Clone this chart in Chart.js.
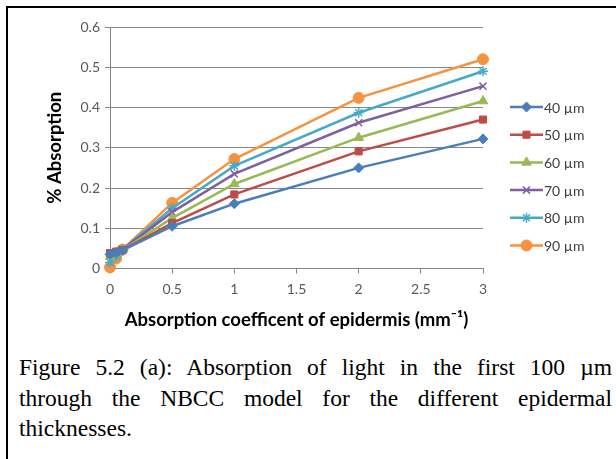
<!DOCTYPE html>
<html>
<head>
<meta charset="utf-8">
<script src="https://cdn.jsdelivr.net/npm/chart.js@4"></script>
<style>
  html, body { margin: 0; padding: 0; background: #fff; width: 616px; height: 459px; overflow: hidden; }
  #frame { position: absolute; left: 6px; top: 6px; width: 620px; height: 470px; border-top: 2px solid #000; border-left: 2px solid #000; }
  #wrap { position: absolute; left: 8px; top: 8px; width: 600px; height: 340px; }
  #caption { position: absolute; left: 19px; top: 352px; width: 593px; font-family: "Liberation Serif", "Times New Roman", serif; font-size: 23.5px; line-height: 30.5px; color: #000; }
  #caption .j { text-align: justify; text-align-last: justify; white-space: nowrap; }
</style>
</head>
<body>
<div id="frame"></div>
<div id="wrap"><canvas id="c" width="600" height="340"></canvas></div>
<div id="caption"><div class="j">Figure 5.2 (a): Absorption of light in the first 100 µm</div><div class="j">through the NBCC model for the different epidermal</div><div>thicknesses.</div></div>
<script>
const xValues = [0, 0.05, 0.1, 0.5, 1, 2, 3];
const seriesNames = ["40 µm", "50 µm", "60 µm", "70 µm", "80 µm", "90 µm"];
const s40 = [0.035, 0.040, 0.045, 0.105, 0.161, 0.250, 0.322];
const s50 = [0.038, 0.042, 0.046, 0.113, 0.184, 0.291, 0.370];
const s60 = [0.030, 0.038, 0.046, 0.125, 0.210, 0.325, 0.416];
const s70 = [0.035, 0.040, 0.047, 0.140, 0.235, 0.362, 0.453];
const s80 = [0.015, 0.030, 0.047, 0.150, 0.255, 0.387, 0.490];
const s90 = [0.003, 0.025, 0.047, 0.163, 0.272, 0.424, 0.520];
const xTicks = [0, 0.5, 1, 1.5, 2, 2.5, 3];
const yTicks = [0, 0.1, 0.2, 0.3, 0.4, 0.5, 0.6];

const allSeries = [s40, s50, s60, s70, s80, s90];
const colors = ["#4a7ebb", "#be4b48", "#98b954", "#7d60a0", "#46aac5", "#f69240"];
const styles = ["rectRot", "rect", "triangle", "crossRot", "star", "circle"];
const radii = [5, 5, 5.5, 5, 5, 5.5];

const datasets = allSeries.map((s, i) => ({
  label: seriesNames[i],
  data: s.map((v, j) => ({ x: xValues[j], y: v })),
  borderColor: colors[i],
  backgroundColor: colors[i],
  borderWidth: 2.5,
  pointStyle: styles[i],
  pointRadius: radii[i],
  pointBorderWidth: (styles[i] === "crossRot" || styles[i] === "star") ? 1.5 : 1,
  pointBorderColor: colors[i],
  pointBackgroundColor: colors[i],
  tension: 0,
  clip: false
}));

const FONT = "Lato, 'Open Sans', 'Liberation Sans', sans-serif";

const legendPlugin = {
  id: "sideLegend",
  afterDraw(chart) {
    const ctx = chart.ctx;
    ctx.save();
    chart.data.datasets.forEach((ds, i) => {
      const y = 99 + i * 27.7;
      ctx.strokeStyle = ds.borderColor;
      ctx.lineWidth = 2.5;
      ctx.beginPath();
      ctx.moveTo(502, y);
      ctx.lineTo(535, y);
      ctx.stroke();
      ctx.fillStyle = ds.backgroundColor;
      ctx.strokeStyle = ds.borderColor;
      ctx.lineWidth = ds.pointBorderWidth;
      Chart.helpers.drawPoint(ctx, { pointStyle: ds.pointStyle, radius: ds.pointRadius, borderWidth: ds.pointBorderWidth, rotation: 0 }, 518.5, y);
      ctx.fillStyle = "#404040";
      ctx.font = "14px " + FONT;
      ctx.textBaseline = "middle";
      ctx.textAlign = "left";
      ctx.fillText(ds.label, 536, y + 1);
    });
    ctx.restore();
  }
};

new Chart(document.getElementById("c"), {
  type: "line",
  data: { datasets },
  plugins: [legendPlugin],
  options: {
    responsive: false,
    animation: false,
    events: [],
    layout: { padding: { left: 36, right: 125, top: 19, bottom: 17 } },
    plugins: { legend: { display: false }, tooltip: { enabled: false } },
    scales: {
      x: {
        type: "linear",
        min: 0, max: 3,
        afterBuildTicks: (s) => { s.ticks = xTicks.map(v => ({ value: v })); },
        afterFit: (s) => { s.height = 62.5; },
        ticks: { color: "#595959", font: { size: 14, family: FONT }, padding: 8, maxRotation: 0, callback: (v) => String(v) },
        grid: { display: true, drawOnChartArea: false, drawTicks: true, tickLength: 5, color: "#868686" },
        border: { display: true, color: "#868686", width: 1 },
        title: { display: true, text: "Absorption coefficent of epidermis (mm⁻¹)", color: "#000", font: { size: 18.5, weight: "bold", family: FONT }, padding: { top: 0, bottom: 0 } }
      },
      y: {
        type: "linear",
        min: 0, max: 0.6,
        afterBuildTicks: (s) => { s.ticks = yTicks.map(v => ({ value: v })); },
        afterFit: (s) => { s.width = 66; },
        ticks: { color: "#595959", font: { size: 14, family: FONT }, padding: 5, callback: (v) => String(v) },
        grid: { color: "#868686", lineWidth: 1, drawTicks: true, tickLength: 5 },
        border: { display: true, color: "#868686", width: 1 },
        title: { display: true, text: "% Absorption", color: "#000", font: { size: 18.5, weight: "bold", family: FONT }, padding: { top: 0, bottom: 0 } }
      }
    }
  }
});
</script>
</body>
</html>
